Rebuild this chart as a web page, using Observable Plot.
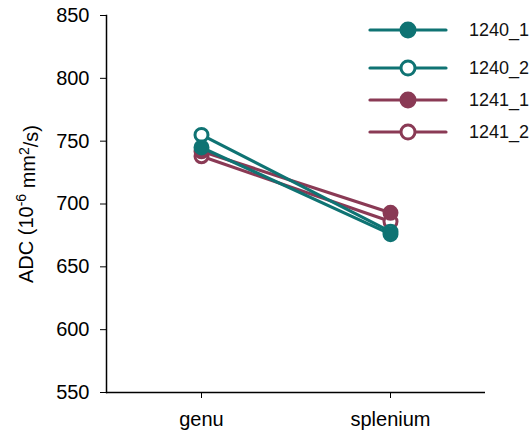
<!DOCTYPE html>
<html><head><meta charset="utf-8">
<script src="https://cdn.jsdelivr.net/npm/d3@7"></script>
<script src="https://cdn.jsdelivr.net/npm/@observablehq/plot@0.6"></script>
<style>body{margin:0;background:#fff} #wrap{position:relative;width:531px;height:433px}
#legend{position:absolute;left:0;top:0}
#wrap g[aria-label="y-axis tick label"] text, #wrap g[aria-label="x-axis tick label"] text{font-size:20px}
</style>
</head><body><div id="wrap"></div>
<script>
const regions = ["genu", "splenium"];
const series = ["1240_1", "1240_2", "1241_1", "1241_2"];
const seriesFilled = [true, false, true, false];
const seriesColors = ["#0f7373", "#0f7373", "#8a3a55", "#8a3a55"];
const v1240_1 = [745, 676];
const v1240_2 = [755, 678];
const v1241_1 = [742, 693];
const v1241_2 = [738, 686];
const yTicks = [550, 600, 650, 700, 750, 800, 850];

const valuesBySeries = {"1240_1": v1240_1, "1240_2": v1240_2, "1241_1": v1241_1, "1241_2": v1241_2};
const drawOrder = ["1241_2", "1241_1", "1240_2", "1240_1"];
const rows = [];
drawOrder.forEach(s => regions.forEach((r, i) => rows.push({series: s, region: r, value: valuesBySeries[s][i], filled: seriesFilled[series.indexOf(s)]})));

const font = "'Liberation Sans', Arial, sans-serif";
const marks = [];
drawOrder.forEach(s => {
  const d = rows.filter(r => r.series === s);
  marks.push(Plot.line(d, {x: "region", y: "value", stroke: "series", strokeWidth: 3.2}));
  marks.push(Plot.dot(d, {x: "region", y: "value", stroke: "series", r: 6.5, strokeWidth: 3, fill: d => d.filled ? seriesColors[series.indexOf(d.series)] : "white"}));
});

const chart = Plot.plot({
  width: 531, height: 433,
  marginLeft: 106, marginRight: 46, marginTop: 15, marginBottom: 41,
  style: {fontFamily: font, fontSize: "20px", color: "#000", background: "#fff"},
  x: {type: "point", domain: regions, padding: 0.5},
  y: {domain: [550, 850]},
  color: {domain: series, range: seriesColors},
  marks: [
    Plot.axisY({ticks: yTicks, tickSize: 6, tickPadding: 11, label: "ADC", labelAnchor: "center", labelArrow: "none", labelOffset: 88, fontSize: 20}),
    Plot.axisX({tickSize: 6, tickPadding: 13, label: null, fontSize: 20}),
    Plot.ruleY([550], {stroke: "#000", strokeWidth: 1.5}),
    Plot.frame({anchor: "left", stroke: "#000", strokeWidth: 1.5}),
    ...marks
  ]
});
document.getElementById("wrap").appendChild(chart);

// y-axis label with superscripts
const lab = d3.select(chart).select('g[aria-label="y-axis label"] text');
if (!lab.empty()) {
  lab.text("").style("font-size", "20px");
  lab.append("tspan").text("ADC (10");
  lab.append("tspan").text("-6").attr("dy", "-0.45em").style("font-size", "14px");
  lab.append("tspan").text(" mm").attr("dy", "0.45em");
  lab.append("tspan").text("2").attr("dy", "-0.45em").style("font-size", "14px");
  lab.append("tspan").text("/s)").attr("dy", "0.45em");
}

// legend
const legendY = [30, 68, 100, 132];
const lg = d3.select("#wrap").append("svg").attr("id", "legend").attr("width", 531).attr("height", 433);
series.forEach((s, i) => {
  const g = lg.append("g");
  g.append("line").attr("x1", 370).attr("x2", 446).attr("y1", legendY[i]).attr("y2", legendY[i])
    .attr("stroke", seriesColors[i]).attr("stroke-width", 3.2).attr("stroke-linecap", "round");
  g.append("circle").attr("cx", 408).attr("cy", legendY[i]).attr("r", 7)
    .attr("stroke", seriesColors[i]).attr("stroke-width", 3).attr("fill", seriesFilled[i] ? seriesColors[i] : "white");
  g.append("text").attr("x", 469).attr("y", legendY[i]).attr("dy", "0.35em").text(s)
    .style("font-family", font).style("font-size", "18px").attr("fill", "#111");
});
</script></body></html>
